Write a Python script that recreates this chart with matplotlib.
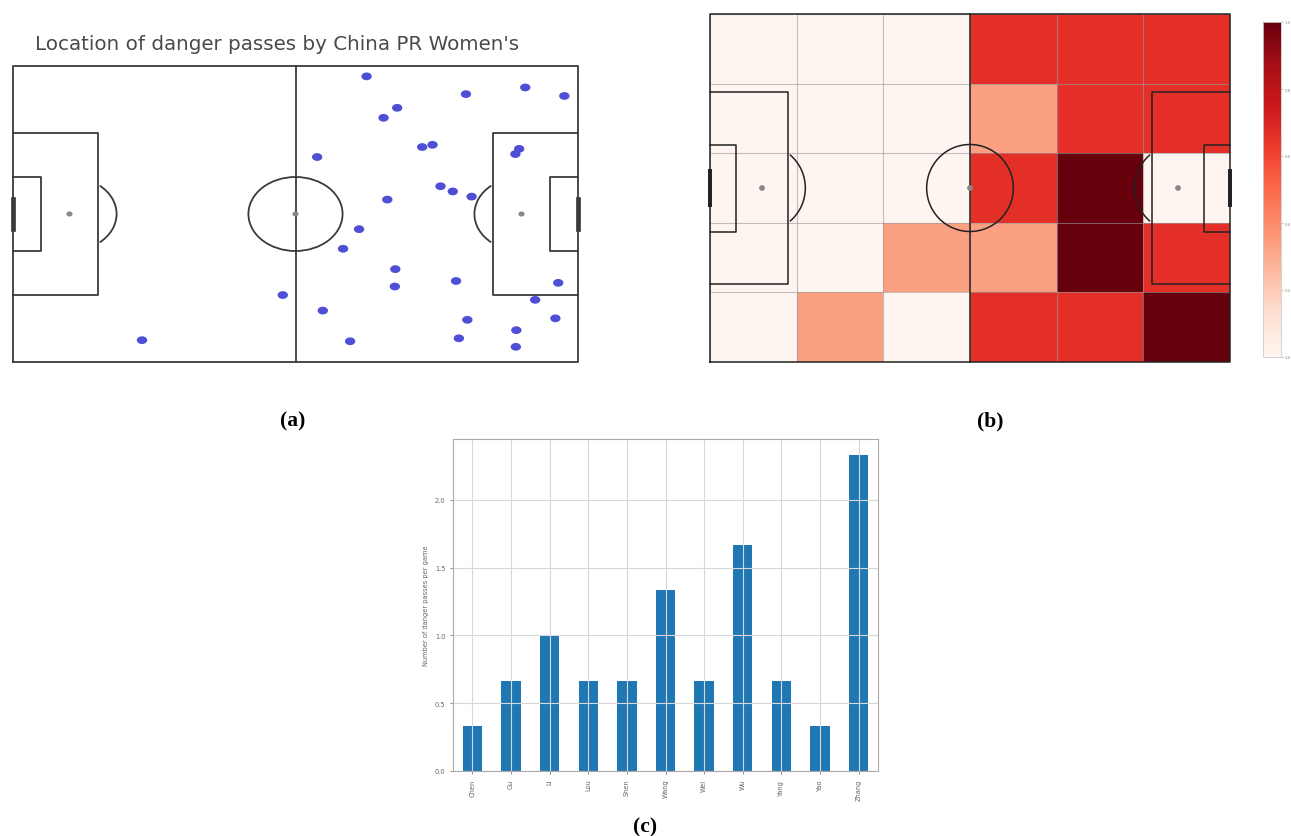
import numpy as np
import matplotlib.pyplot as plt
from matplotlib.patches import Arc, Circle, Ellipse

# Danger pass start locations (StatsBomb coords: 120 x 80, y measured from the top)
pass_x = [27.4, 57.3, 75.1, 108.8, 96.2, 117.1, 81.6, 78.7, 86.9, 89.1,
          64.6, 107.5, 106.7, 90.8, 93.4, 97.4, 79.5, 73.5, 70.1, 81.2,
          81.1, 94.1, 115.8, 110.9, 65.8, 96.5, 115.2, 106.9, 71.6, 94.7,
          106.8]
pass_y = [74.1, 61.9, 2.8, 5.8, 7.6, 8.1, 11.3, 14.0, 21.9, 21.3,
          24.6, 22.4, 23.8, 32.5, 33.9, 35.3, 36.1, 44.1, 49.4, 54.9,
          59.6, 58.1, 58.6, 63.2, 66.1, 68.6, 68.2, 71.4, 74.4, 73.6,
          75.9]

n_games = 3
players = ["Chen", "Gu", "Li", "Lou", "Shen", "Wang", "Wei", "Wu", "Yang", "Yao", "Zhang"]
danger_passes = [1, 2, 3, 2, 2, 4, 2, 5, 2, 1, 7]

pitch_len, pitch_wid = 120, 80

W, H = 1291, 837
fig = plt.figure(figsize=(W / 100, H / 100), dpi=100)


def px_rect(left, top, w, h):
    return [left / W, 1 - (top + h) / H, w / W, h / H]


def draw_pitch(ax, color="#333333", lw=1.2, z=3):
    kw = dict(color=color, lw=lw, zorder=z, clip_on=False)
    # outline and halfway line
    ax.plot([0, 0, 120, 120, 0], [0, 80, 80, 0, 0], **kw)
    ax.plot([60, 60], [0, 80], **kw)
    # penalty areas
    ax.plot([0, 18, 18, 0], [62, 62, 18, 18], **kw)
    ax.plot([120, 102, 102, 120], [62, 62, 18, 18], **kw)
    # six yard boxes
    ax.plot([0, 6, 6, 0], [50, 50, 30, 30], **kw)
    ax.plot([120, 114, 114, 120], [50, 50, 30, 30], **kw)
    # goals
    ax.plot([0, 0], [36, 44], color=color, lw=lw * 2.6, zorder=z, clip_on=False)
    ax.plot([120, 120], [36, 44], color=color, lw=lw * 2.6, zorder=z, clip_on=False)
    # circle, spots and arcs
    ax.add_patch(Circle((60, 40), 10, fill=False, ec=color, lw=lw, zorder=z))
    for sx in (12, 60, 108):
        ax.add_patch(Circle((sx, 40), 0.5, color="#888888", zorder=z))
    ax.add_patch(Arc((12, 40), 20, 20, theta1=310, theta2=50, color=color, lw=lw, zorder=z))
    ax.add_patch(Arc((108, 40), 20, 20, theta1=130, theta2=230, color=color, lw=lw, zorder=z))
    ax.set_xlim(0, pitch_len)
    ax.set_ylim(0, pitch_wid)


# (a) scatter of danger passes
ax_a = fig.add_axes(px_rect(13, 67, 565, 296))
draw_pitch(ax_a, color="#3a3a3a", lw=1.3)
for x, y in zip(pass_x, pass_y):
    ax_a.add_patch(Ellipse((x, pitch_wid - y), 2.2, 2.1, color="#4f4fd6", lw=0, zorder=4))
ax_a.axis("off")
fig.text(277 / W, 1 - 45 / H, "Location of danger passes by China PR Women's",
         ha="center", va="center", fontsize=14.3, color="#4a4a4a")

# (b) heatmap of danger passes per game
ax_b = fig.add_axes(px_rect(710, 15, 520, 348))
H_pass, xe, ye = np.histogram2d(pass_x, pitch_wid - np.array(pass_y), bins=(6, 5),
                                range=[[0, pitch_len], [0, pitch_wid]])
mesh = ax_b.pcolormesh(xe, ye, H_pass.T / n_games, cmap="Reds", vmin=0, vmax=1, zorder=1)
draw_pitch(ax_b, color="#222222", lw=1.1)
ax_b.set_xticks(xe)
ax_b.set_yticks(ye)
ax_b.set_axisbelow(False)
ax_b.grid(True, color="#999999", lw=0.8, alpha=0.6)
ax_b.tick_params(length=0, labelbottom=False, labelleft=False)
for s in ax_b.spines.values():
    s.set_visible(False)

cax = fig.add_axes(px_rect(1263, 23, 18, 335))
cb = fig.colorbar(mesh, cax=cax, ticks=[0, 0.2, 0.4, 0.6, 0.8, 1.0])
cb.ax.tick_params(labelsize=2.8, length=1.5, width=0.4, pad=1, colors="#888888")
cb.outline.set_edgecolor("#cccccc")
cb.outline.set_linewidth(0.6)

# (c) danger passes per game by player
ax_c = fig.add_axes(px_rect(453, 440, 425, 332))
per_game = np.array(danger_passes) / n_games
pos = np.arange(len(players))
ax_c.bar(pos, per_game, width=0.5, color="#1f77b4")
ax_c.set_xlim(-0.5, len(players) - 0.5)
ax_c.set_ylim(0, per_game.max() * 1.05)
ax_c.set_xticks(pos)
ax_c.set_xticklabels(players, rotation=90)
ax_c.set_yticks([0, 0.5, 1.0, 1.5, 2.0])
ax_c.grid(True, color="#d8d8d8", lw=0.8)
ax_c.tick_params(labelsize=4.8, colors="#666666", length=2, width=0.5)
ax_c.set_ylabel("Number of danger passes per game", fontsize=4.8, color="#666666", labelpad=4)
for s in ax_c.spines.values():
    s.set_edgecolor("#aaaaaa")
    s.set_linewidth(0.8)

# panel captions
cap = dict(ha="center", va="center", fontsize=15.5, fontweight="bold", family="Liberation Serif")
fig.text(293 / W, 1 - 421 / H, "(a)", **cap)
fig.text(990 / W, 1 - 421 / H, "(b)", **cap)
fig.text(645 / W, 1 - 827 / H, "(c)", **cap)

fig.savefig("out.png", dpi=100)
